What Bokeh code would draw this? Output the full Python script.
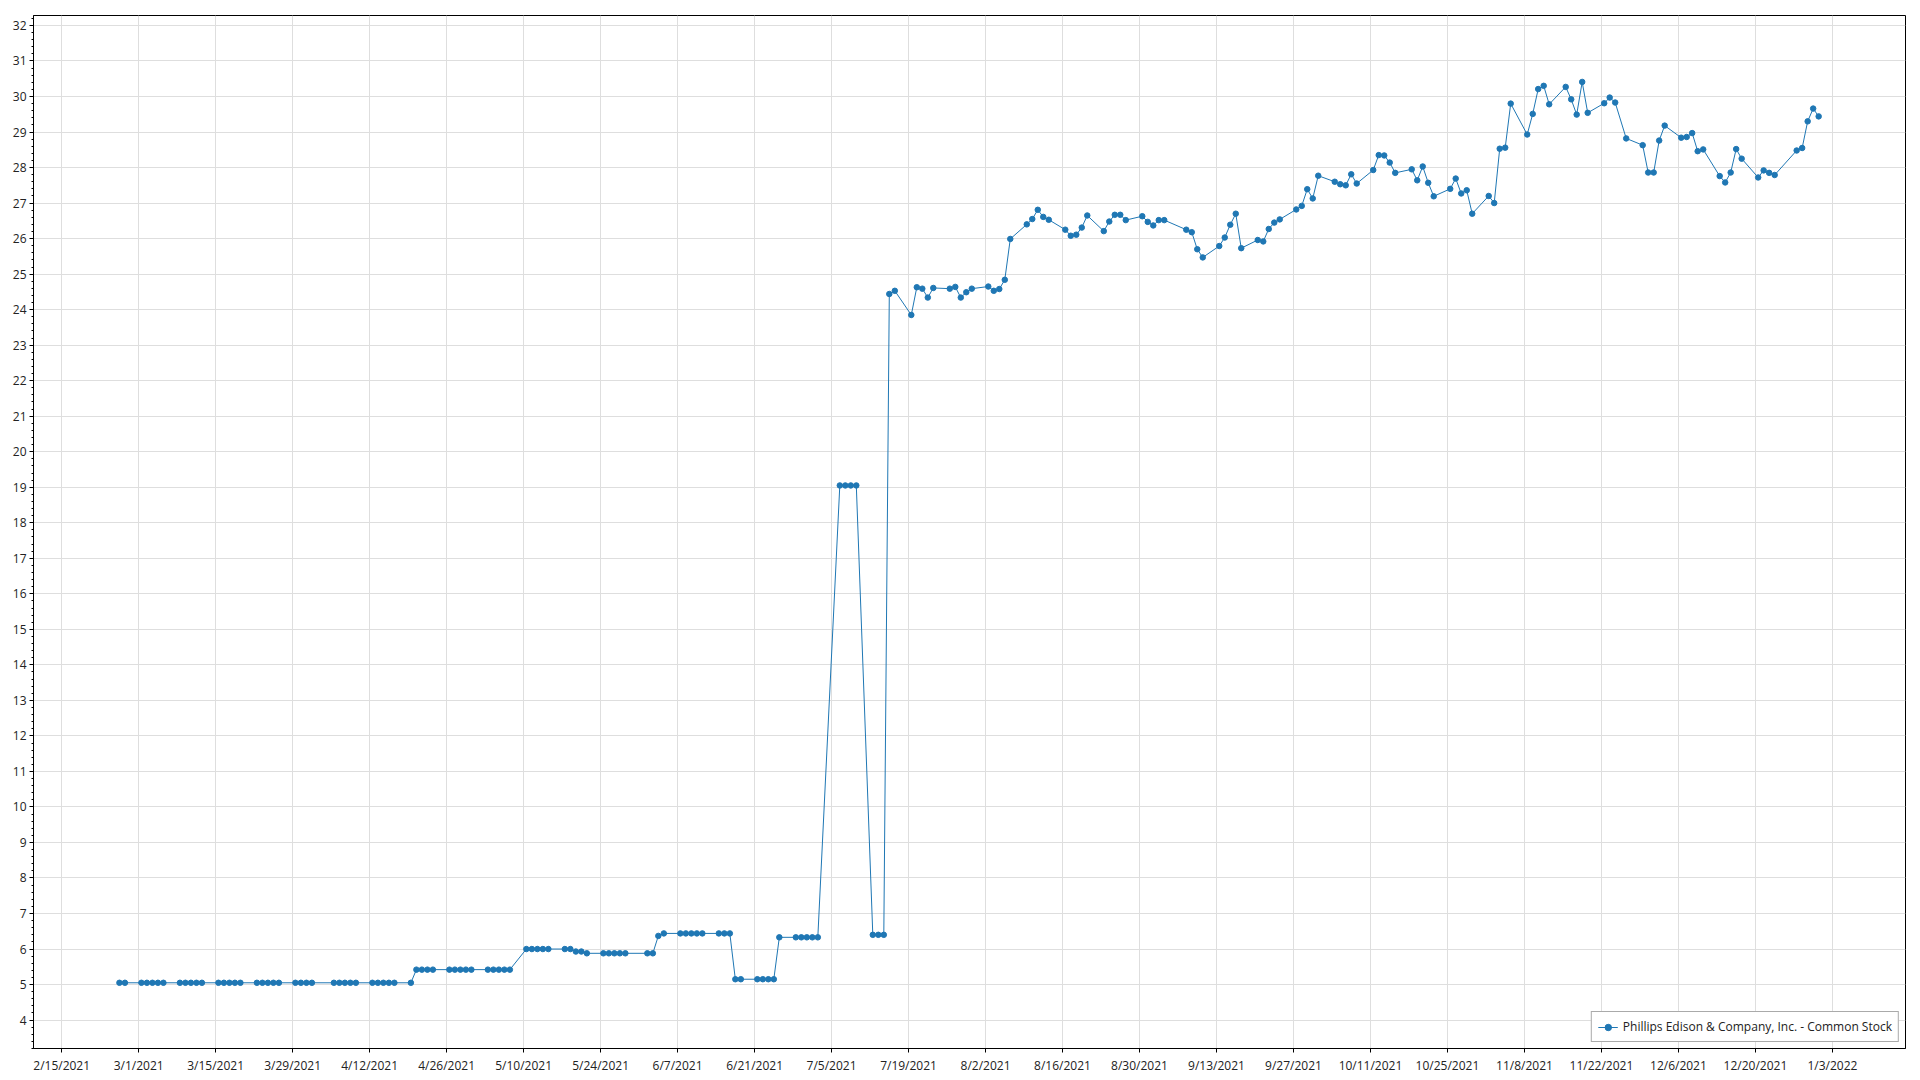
import pandas as pd
from bokeh.plotting import figure
from bokeh.models import (Range1d, FixedTicker, SingleIntervalTicker,
                          DatetimeTickFormatter, ColumnDataSource)
from bokeh.embed import file_html
from bokeh.resources import INLINE

series_name = "Phillips Edison & Company, Inc. - Common Stock"

dates = [
    "2021-02-25", "2021-02-26",
    "2021-03-01", "2021-03-02", "2021-03-03", "2021-03-04", "2021-03-05",
    "2021-03-08", "2021-03-09", "2021-03-10", "2021-03-11", "2021-03-12",
    "2021-03-15", "2021-03-16", "2021-03-17", "2021-03-18", "2021-03-19",
    "2021-03-22", "2021-03-23", "2021-03-24", "2021-03-25", "2021-03-26",
    "2021-03-29", "2021-03-30", "2021-03-31", "2021-04-01",
    "2021-04-05", "2021-04-06", "2021-04-07", "2021-04-08", "2021-04-09",
    "2021-04-12", "2021-04-13", "2021-04-14", "2021-04-15", "2021-04-16",
    "2021-04-19", "2021-04-20", "2021-04-21", "2021-04-22", "2021-04-23",
    "2021-04-26", "2021-04-27", "2021-04-28", "2021-04-29", "2021-04-30",
    "2021-05-03", "2021-05-04", "2021-05-05", "2021-05-06", "2021-05-07",
    "2021-05-10", "2021-05-11", "2021-05-12", "2021-05-13", "2021-05-14",
    "2021-05-17", "2021-05-18", "2021-05-19", "2021-05-20", "2021-05-21",
    "2021-05-24", "2021-05-25", "2021-05-26", "2021-05-27", "2021-05-28",
    "2021-06-01", "2021-06-02", "2021-06-03", "2021-06-04",
    "2021-06-07", "2021-06-08", "2021-06-09", "2021-06-10", "2021-06-11",
    "2021-06-14", "2021-06-15", "2021-06-16", "2021-06-17", "2021-06-18",
    "2021-06-21", "2021-06-22", "2021-06-23", "2021-06-24", "2021-06-25",
    "2021-06-28", "2021-06-29", "2021-06-30", "2021-07-01", "2021-07-02",
    "2021-07-06", "2021-07-07", "2021-07-08", "2021-07-09",
    "2021-07-12", "2021-07-13", "2021-07-14", "2021-07-15", "2021-07-16",
    "2021-07-19", "2021-07-20", "2021-07-21", "2021-07-22", "2021-07-23",
    "2021-07-26", "2021-07-27", "2021-07-28", "2021-07-29", "2021-07-30",
    "2021-08-02", "2021-08-03", "2021-08-04", "2021-08-05", "2021-08-06",
    "2021-08-09", "2021-08-10", "2021-08-11", "2021-08-12", "2021-08-13",
    "2021-08-16", "2021-08-17", "2021-08-18", "2021-08-19", "2021-08-20",
    "2021-08-23", "2021-08-24", "2021-08-25", "2021-08-26", "2021-08-27",
    "2021-08-30", "2021-08-31", "2021-09-01", "2021-09-02", "2021-09-03",
    "2021-09-07", "2021-09-08", "2021-09-09", "2021-09-10",
    "2021-09-13", "2021-09-14", "2021-09-15", "2021-09-16", "2021-09-17",
    "2021-09-20", "2021-09-21", "2021-09-22", "2021-09-23", "2021-09-24",
    "2021-09-27", "2021-09-28", "2021-09-29", "2021-09-30", "2021-10-01",
    "2021-10-04", "2021-10-05", "2021-10-06", "2021-10-07", "2021-10-08",
    "2021-10-11", "2021-10-12", "2021-10-13", "2021-10-14", "2021-10-15",
    "2021-10-18", "2021-10-19", "2021-10-20", "2021-10-21", "2021-10-22",
    "2021-10-25", "2021-10-26", "2021-10-27", "2021-10-28", "2021-10-29",
    "2021-11-01", "2021-11-02", "2021-11-03", "2021-11-04", "2021-11-05",
    "2021-11-08", "2021-11-09", "2021-11-10", "2021-11-11", "2021-11-12",
    "2021-11-15", "2021-11-16", "2021-11-17", "2021-11-18", "2021-11-19",
    "2021-11-22", "2021-11-23", "2021-11-24", "2021-11-26",
    "2021-11-29", "2021-11-30", "2021-12-01", "2021-12-02", "2021-12-03",
    "2021-12-06", "2021-12-07", "2021-12-08", "2021-12-09", "2021-12-10",
    "2021-12-13", "2021-12-14", "2021-12-15", "2021-12-16", "2021-12-17",
    "2021-12-20", "2021-12-21", "2021-12-22", "2021-12-23",
    "2021-12-27", "2021-12-28", "2021-12-29", "2021-12-30", "2021-12-31",
]

prices = [
    5.05, 5.05,
    5.05, 5.05, 5.05, 5.05, 5.05,
    5.05, 5.05, 5.05, 5.05, 5.05,
    5.05, 5.05, 5.05, 5.05, 5.05,
    5.05, 5.05, 5.05, 5.05, 5.05,
    5.05, 5.05, 5.05, 5.05,
    5.05, 5.05, 5.05, 5.05, 5.05,
    5.05, 5.05, 5.05, 5.05, 5.05,
    5.05, 5.42, 5.42, 5.42, 5.42,
    5.42, 5.42, 5.42, 5.42, 5.42,
    5.42, 5.42, 5.42, 5.42, 5.42,
    6.00, 6.00, 6.00, 6.00, 6.00,
    6.00, 6.00, 5.93, 5.93, 5.88,
    5.88, 5.88, 5.88, 5.88, 5.88,
    5.88, 5.88, 6.37, 6.44,
    6.44, 6.44, 6.44, 6.44, 6.44,
    6.44, 6.44, 6.44, 5.15, 5.15,
    5.15, 5.15, 5.15, 5.15, 6.33,
    6.33, 6.33, 6.33, 6.33, 6.33,
    19.05, 19.05, 19.05, 19.05,
    6.40, 6.40, 6.40, 24.44, 24.53,
    23.85, 24.63, 24.59, 24.34, 24.61,
    24.59, 24.64, 24.34, 24.49, 24.59,
    24.65, 24.53, 24.58, 24.84, 25.99,
    26.40, 26.55, 26.81, 26.61, 26.53,
    26.25, 26.08, 26.11, 26.31, 26.65,
    26.21, 26.48, 26.67, 26.67, 26.52,
    26.63, 26.47, 26.37, 26.52, 26.52,
    26.25, 26.18, 25.70, 25.47,
    25.79, 26.03, 26.39, 26.70, 25.73,
    25.96, 25.92, 26.27, 26.45, 26.54,
    26.82, 26.92, 27.39, 27.13, 27.77,
    27.60, 27.53, 27.50, 27.81, 27.55,
    27.93, 28.35, 28.34, 28.14, 27.85,
    27.95, 27.64, 28.03, 27.57, 27.19,
    27.40, 27.69, 27.27, 27.36, 26.70,
    27.20, 27.00, 28.53, 28.56, 29.80,
    28.93, 29.51, 30.21, 30.30, 29.78,
    30.27, 29.92, 29.49, 30.41, 29.54,
    29.81, 29.97, 29.83, 28.82,
    28.63, 27.86, 27.86, 28.76, 29.18,
    28.84, 28.86, 28.97, 28.46, 28.51,
    27.76, 27.58, 27.86, 28.52, 28.25,
    27.72, 27.92, 27.85, 27.79,
    28.48, 28.55, 29.30, 29.66, 29.44,
]

tick_dates = [
    "2021-02-15", "2021-03-01", "2021-03-15", "2021-03-29", "2021-04-12",
    "2021-04-26", "2021-05-10", "2021-05-24", "2021-06-07", "2021-06-21",
    "2021-07-05", "2021-07-19", "2021-08-02", "2021-08-16", "2021-08-30",
    "2021-09-13", "2021-09-27", "2021-10-11", "2021-10-25", "2021-11-08",
    "2021-11-22", "2021-12-06", "2021-12-20", "2022-01-03",
]

x_vals = pd.to_datetime(dates) + pd.Timedelta(hours=12)
src = ColumnDataSource(dict(x=x_vals, y=prices))
tick_ms = [pd.Timestamp(t).timestamp() * 1000 for t in tick_dates]

FONT = "Open Sans"
COLOR = "#1f77b4"

p = figure(width=1912, height=1076, x_axis_type="datetime",
           output_backend="svg", toolbar_location=None,
           x_range=Range1d(pd.Timestamp("2021-02-09 21:00"), pd.Timestamp("2022-01-16 07:00")),
           y_range=Range1d(3.2, 32.28),
           min_border_left=33, min_border_right=7, min_border_top=15, min_border_bottom=24)

p.background_fill_color = "white"
p.border_fill_color = "white"
p.outline_line_color = "black"
p.outline_line_width = 1
p.outline_line_alpha = 1

p.line("x", "y", source=src, line_color=COLOR, line_width=1, legend_label=series_name)
p.scatter("x", "y", source=src, size=5.5, fill_color=COLOR, line_color=COLOR, legend_label=series_name)

# x axis
xa = p.xaxis[0]
xa.ticker = FixedTicker(ticks=tick_ms)
xa.formatter = DatetimeTickFormatter(days="%-m/%-d/%Y", months="%-m/%-d/%Y", years="%-m/%-d/%Y")
xa.major_label_text_font = FONT
xa.major_label_text_font_size = "12px"
xa.major_label_text_color = "#222222"
xa.axis_line_color = "black"
xa.major_tick_line_color = "black"
xa.major_tick_out = 4
xa.major_tick_in = 0
xa.minor_tick_line_color = None
xa.major_label_standoff = 4

# y axis
ya = p.yaxis[0]
ya.ticker = SingleIntervalTicker(interval=1, num_minor_ticks=5)
ya.major_label_text_font = FONT
ya.major_label_text_font_size = "12px"
ya.major_label_text_color = "#222222"
ya.axis_line_color = "black"
ya.major_tick_line_color = "black"
ya.major_tick_out = 4
ya.major_tick_in = 0
ya.minor_tick_line_color = "black"
ya.minor_tick_out = 2
ya.minor_tick_in = 0
ya.major_label_standoff = 3

p.xgrid.grid_line_color = "#dedede"
p.ygrid.grid_line_color = "#dedede"
p.xgrid.ticker = xa.ticker
p.ygrid.ticker = ya.ticker

lg = p.legend[0]
lg.location = "bottom_right"
lg.margin = 6
lg.padding = 6
lg.spacing = 0
lg.label_height = 16
lg.glyph_height = 16
lg.glyph_width = 20
lg.label_text_font = FONT
lg.label_text_font_size = "12px"
lg.label_text_color = "#222222"
lg.border_line_color = "#555555"
lg.border_line_width = 1.5
lg.background_fill_color = "white"
lg.background_fill_alpha = 1

open("out.html", "w").write(file_html(p, INLINE))
